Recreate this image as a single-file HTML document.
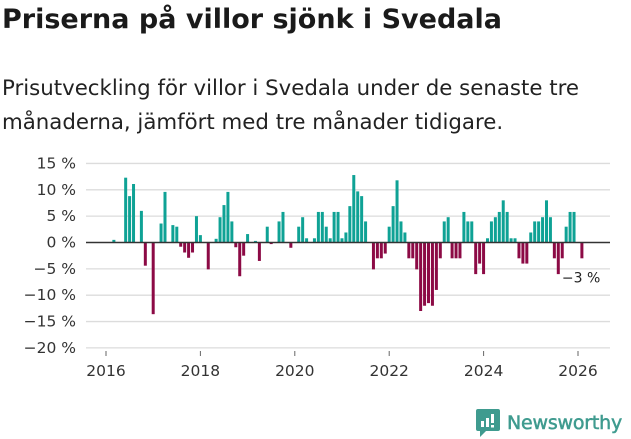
<!DOCTYPE html>
<html><head><meta charset="utf-8"><style>
body{margin:0;width:631px;height:439px;background:#fff;font-family:"Liberation Sans","DejaVu Sans",sans-serif;overflow:hidden;position:relative}
#title{position:absolute;left:2px;top:4px;font-size:27px;font-weight:bold;color:#1a1a1a;margin:0;font-family:"DejaVu Sans","Liberation Sans",sans-serif;letter-spacing:0px}
#sub{position:absolute;left:2px;top:72px;font-size:21.3px;line-height:34px;color:#222;font-family:"DejaVu Sans","Liberation Sans",sans-serif;letter-spacing:0px;white-space:nowrap}
svg{position:absolute;left:0;top:0}
</style></head><body>
<h1 id="title">Priserna på villor sjönk i Svedala</h1>
<div id="sub">Prisutveckling för villor i Svedala under de senaste tre<br>månaderna, jämfört med tre månader tidigare.</div>
<svg id="chart" width="631" height="439"></svg>
<script>
const yTicks=[15,10,5,0,-5,-10,-15,-20];
const yTickLabels=["15 %","10 %","5 %","0 %","−5 %","−10 %","−15 %","−20 %"];
const xYears=[2016,2018,2020,2022,2024,2026];
const values=[0,0,0.5,0,0,12.3,8.8,11.1,0,6,-4.4,0,-13.6,0,3.6,9.6,0,3.3,3,-0.8,-1.9,-2.9,-1.9,5,1.4,0,-5.1,0,0.7,4.8,7.1,9.6,4,-0.9,-6.4,-2.5,1.6,0,0.3,-3.5,0,3,-0.3,0,4,5.8,0,-1,0,3,4.8,0.8,0,0.8,5.8,5.8,3,0.8,5.8,5.8,0.8,1.9,6.9,12.8,9.7,8.8,4,0,-5.1,-3,-3,-2.1,3,6.9,11.8,4,1.9,-3,-3,-5.1,-13,-12,-11.5,-12,-9,-3,4,4.8,-3,-3,-3,5.8,4,4,-6,-4,-6,0.8,4,4.8,5.8,8,5.8,0.8,0.8,-3,-4,-4,1.9,4,4,4.8,8,4.8,-3,-6,-3,3,5.8,5.8,0,-3];
const lastLabel="−3 %";
const NS="http://www.w3.org/2000/svg";
const svg=document.getElementById('chart');
const y=v=>242.5-v*5.27;
const xm=i=>106+i*3.933;
const xy=yr=>106+(yr-2016)*47.2;
function mk(t,a){const e=document.createElementNS(NS,t);for(const k in a)e.setAttribute(k,a[k]);svg.appendChild(e);return e;}
yTicks.forEach((t,i)=>{
 if(t!==0){const l=mk('line',{x1:86,x2:610,y1:y(t),y2:y(t),stroke:'#dcdcdc','stroke-width':1.3});
 
 }
 const tx=mk('text',{x:76,y:y(t)+5,'text-anchor':'end','font-size':15.5,fill:'#333','font-family':'DejaVu Sans, Liberation Sans, sans-serif'});
 tx.textContent=yTickLabels[i];
 
 
});
xYears.forEach(yr=>{
 const tk=mk('line',{x1:xy(yr),x2:xy(yr),y1:351,y2:356,stroke:'#666','stroke-width':1});
 
 
 const tx=mk('text',{x:xy(yr),y:376,'text-anchor':'middle','font-size':15.5,fill:'#333','font-family':'DejaVu Sans, Liberation Sans, sans-serif'});
 tx.textContent=yr;
 
 
});
values.forEach((v,i)=>{
 if(v===0)return;
 const top=Math.min(y(v),y(0)),h=Math.abs(y(v)-y(0));
 const r=mk('rect',{x:xm(i)-1.5,y:top,width:3,height:h,fill:v>0?'#0fa295':'#8c0a45'});
 
 
});
const z=mk('line',{x1:86,x2:610,y1:y(0),y2:y(0),stroke:'#333','stroke-width':1.6});


const li=values.length-1;
const lb=mk('text',{x:xm(li)-20,y:y(values[li])+24,'font-size':14,fill:'#222','font-family':'DejaVu Sans, Liberation Sans, sans-serif'});
lb.textContent=lastLabel;


</script>
<div style="position:absolute;left:476px;top:409px;display:flex;align-items:center">
<svg width="24" height="28" viewBox="0 0 24 28" style="position:static"><path d="M2 0h20a2 2 0 0 1 2 2v18a2 2 0 0 1-2 2H10l-6 6v-6H2a2 2 0 0 1-2-2V2a2 2 0 0 1 2-2z" fill="#3f9b8f"/><rect x="5" y="12" width="3" height="6" fill="#fff"/><rect x="10" y="9" width="3" height="9" fill="#fff"/><rect x="15" y="5" width="3" height="9" fill="#fff"/><rect x="15" y="16" width="3" height="2.5" fill="#fff"/></svg>
<span style="margin-left:7px;font-size:19px;color:#3f9b8f;font-family:'DejaVu Sans','Liberation Sans',sans-serif;font-weight:normal;letter-spacing:-0.2px;-webkit-text-stroke:0.5px #3f9b8f">Newsworthy</span></div>
</body></html>
